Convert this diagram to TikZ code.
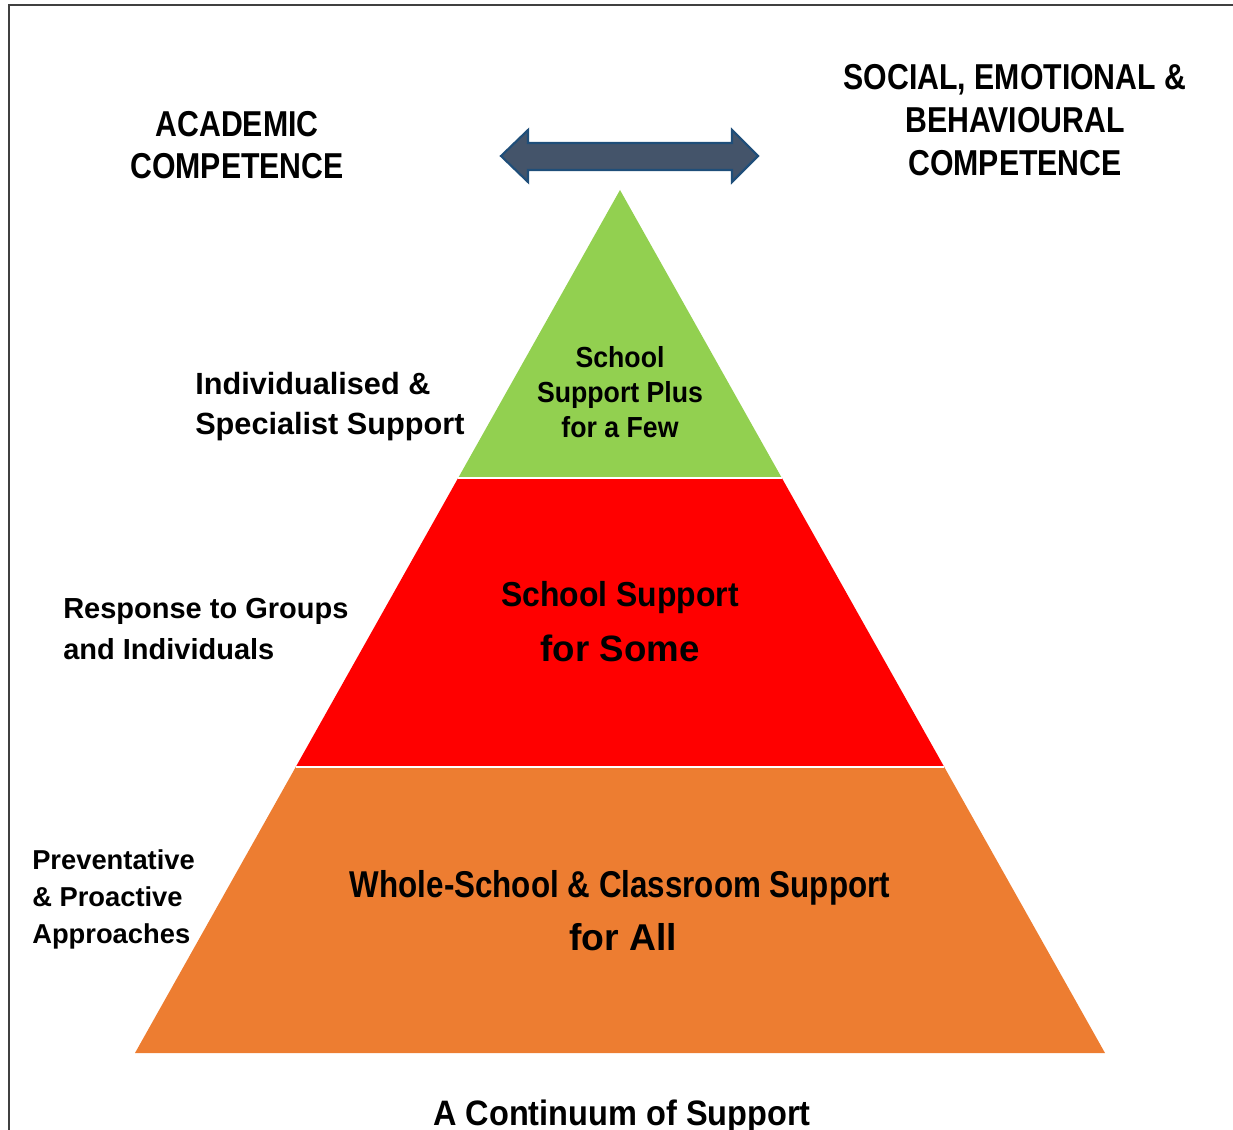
\documentclass[tikz,border=0pt]{standalone}
\usepackage{fontspec}
\setmainfont{Liberation Sans}
\newfontfamily\narrowsf{Liberation Sans}[FakeStretch=0.84]
\newfontfamily\slimsf{Liberation Sans}[FakeStretch=0.92]
\usetikzlibrary{calc,positioning}

\definecolor{tiergreen}{HTML}{92D050}
\definecolor{tierred}{HTML}{FF0000}
\definecolor{tierorange}{HTML}{ED7D31}
\definecolor{arrowfill}{HTML}{44546A}
\definecolor{arrowline}{HTML}{1F4E79}

\begin{document}
\begin{tikzpicture}[
    x=0.75pt,y=-0.75pt,
    frame/.style={draw=black!75,line width=1.1pt},
    twoway/.style={fill=arrowfill,draw=arrowline,line width=1.6pt,line join=miter},
    gap/.style={draw=white,line width=1.9pt},
    heading/.style={font=\narrowsf\bfseries\fontsize{27}{31.5}\selectfont,align=center,anchor=base,inner sep=0pt},
    side/.style={font=\bfseries,align=left,anchor=base west,inner sep=0pt},
    tier/.style={anchor=base,inner sep=0pt,align=center}
  ]
    \useasboundingbox (0,0) rectangle (1233,1130);
    \draw[frame] (9,1130) -- (9,5) -- (1233,5);

    % pyramid
    \coordinate (apex) at (620,190);
    \coordinate (baseL) at (135,1053);
    \coordinate (baseR) at (1105,1053);
    \coordinate (gL) at ($(apex)!0.3337!(baseL)$);
    \coordinate (gR) at ($(apex)!0.3337!(baseR)$);
    \coordinate (rL) at ($(apex)!0.6686!(baseL)$);
    \coordinate (rR) at ($(apex)!0.6686!(baseR)$);
    \fill[tiergreen] (apex) -- (gL) -- (gR) -- cycle;
    \fill[tierred] (gL) -- (rL) -- (rR) -- (gR) -- cycle;
    \fill[tierorange] (rL) -- (baseL) -- (baseR) -- (rR) -- cycle;
    \draw[gap] (gL) -- (gR);
    \draw[gap] (rL) -- (rR);

    % two-way arrow
    \draw[twoway] (501,156) -- (528,130) -- (528,143) -- (732,143) -- (732,130)
      -- (758,156) -- (732,182) -- (732,170) -- (528,170) -- (528,182) -- cycle;

    % multi-line nodes sit on the baseline of their last line
    \node[heading] (academic) at (237,179) {ACADEMIC\\COMPETENCE};
    \node[heading,font=\narrowsf\bfseries\fontsize{27}{32.25}\selectfont] (social) at (1015,176)
      {SOCIAL, EMOTIONAL \&\\BEHAVIOURAL\\COMPETENCE};

    \node[tier,font=\slimsf\bfseries\fontsize{21.75}{26.25}\selectfont] (few) at (620,438)
      {School\\Support Plus\\for a Few};
    \node[tier,font=\slimsf\bfseries\fontsize{26}{30}\selectfont] (some) at (620,607) {School Support};
    \node[tier,font=\bfseries\fontsize{27.5}{30}\selectfont] (someB) at ($(some.base)+(0,55)$) {for Some};
    \node[tier,font=\narrowsf\bfseries\fontsize{28}{32}\selectfont] (all) at (620,897)
      {Whole-School \& Classroom Support};
    \node[tier,font=\bfseries\fontsize{28}{32}\selectfont] (allB) at ($(all.base)+(3,53)$) {for All};

    \node[side,font=\bfseries\fontsize{23}{30}\selectfont] (specialist) at (195,435)
      {Individualised \&\\Specialist Support};
    \node[side,font=\bfseries\fontsize{21.75}{31.5}\selectfont] (groups) at (63,660)
      {Response to Groups\\and Individuals};
    \node[side,font=\bfseries\fontsize{20.5}{27.4}\selectfont] (preventative) at (32,943)
      {Preventative\\\& Proactive\\Approaches};

    \node[heading,font=\slimsf\bfseries\fontsize{26.5}{30}\selectfont] (continuum) at (622,1125)
      {A Continuum of Support};
  \end{tikzpicture}
\end{document}
